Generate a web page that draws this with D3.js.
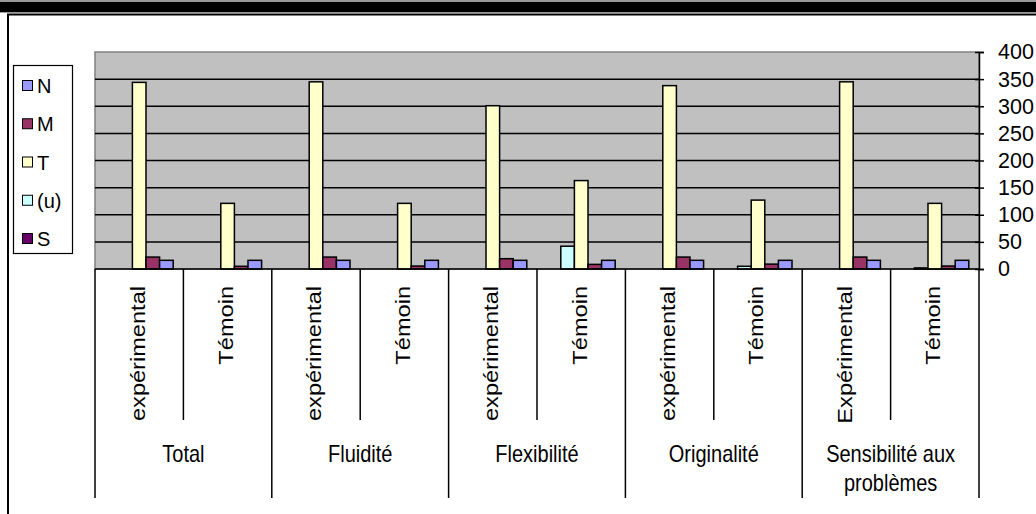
<!DOCTYPE html>
<html>
<head>
<meta charset="utf-8">
<script src="https://cdn.jsdelivr.net/npm/d3@7"></script>
<style>
  html, body { margin: 0; padding: 0; background: #fff; }
  svg { display: block; font-family: "Liberation Sans", Arial, sans-serif; }
</style>
</head>
<body>
<svg id="chart" width="1036" height="514"></svg>
<script>
// ---- data ----
const groups = ["Total", "Fluidité", "Flexibilité", "Originalité", "Sensibilité aux problèmes"];
const subLabels = ["expérimental", "Témoin", "expérimental", "Témoin", "expérimental", "Témoin", "expérimental", "Témoin", "Expérimental", "Témoin"];
const legendOrder = ["N", "M", "T", "(u)", "S"];
const barOrder = ["S", "(u)", "T", "M", "N"];
const seriesN = [16, 16, 16, 16, 16, 16, 16, 16, 16, 16];
const seriesM = [22, 5, 22, 5.5, 19, 8.5, 22, 9, 22, 5.5];
const seriesT = [344, 121, 345, 121, 301, 163, 338, 127, 345, 121];
const seriesU = [0, 0, 0, 0, 0, 42, 0, 5, 0, 2];
const seriesS = [0, 0, 0, 0, 0, 0, 0, 0, 0, 0];
const yTicks = [0, 50, 100, 150, 200, 250, 300, 350, 400];

const seriesValues = { "N": seriesN, "M": seriesM, "T": seriesT, "(u)": seriesU, "S": seriesS };
const colors = { "N": "#9999FF", "M": "#993366", "T": "#FFFFCC", "(u)": "#CCFFFF", "S": "#660066" };

// ---- layout ----
const svg = d3.select("#chart");
const L = 95, R = 979, TOP = 52, BOT = 269;
const x = d3.scaleBand().domain(d3.range(subLabels.length)).range([L, R]).padding(0);
const xs = d3.scaleBand().domain(barOrder).range([0, x.bandwidth()]).paddingInner(0).paddingOuter(0.75);
const y = d3.scaleLinear().domain([0, 400]).range([BOT, TOP]);
const fontMain = 20, vStretch = 1.18;

// page decoration: top black band and chart frame
svg.append("rect").attr("x", 0).attr("y", 0).attr("width", 1036).attr("height", 13).attr("fill", "#999");
svg.append("rect").attr("x", 0).attr("y", 2).attr("width", 1036).attr("height", 10).attr("fill", "#000");
svg.append("path").attr("d", "M8,514 V14.5 H1036").attr("fill", "none").attr("stroke", "#000").attr("stroke-width", 2);

// plot area
svg.append("rect").attr("x", L).attr("y", TOP).attr("width", R - L).attr("height", BOT - TOP)
  .attr("fill", "#C0C0C0").attr("stroke", "#808080").attr("stroke-width", 1.5);

// gridlines
svg.append("g").selectAll("line").data(yTicks.filter(t => t > 0 && t < 400)).join("line")
  .attr("x1", L).attr("x2", R).attr("y1", d => y(d)).attr("y2", d => y(d))
  .attr("stroke", "#000").attr("stroke-width", 1.5);

// bars
const bars = [];
subLabels.forEach((c, i) => {
  barOrder.forEach(s => {
    const v = seriesValues[s][i];
    if (v > 0) bars.push({ i, s, v });
  });
});
svg.append("g").selectAll("rect").data(bars).join("rect")
  .attr("x", d => x(d.i) + xs(d.s))
  .attr("y", d => y(d.v))
  .attr("width", xs.bandwidth())
  .attr("height", d => y(0) - y(d.v))
  .attr("fill", d => colors[d.s])
  .attr("stroke", "#000").attr("stroke-width", 1.5);

// right value axis
const yAxis = svg.append("g").attr("transform", `translate(${R},0)`)
  .call(d3.axisRight(y).tickValues(yTicks).tickSize(5).tickPadding(14));
yAxis.select(".domain").attr("stroke", "#000").attr("stroke-width", 1.5);
yAxis.selectAll(".tick line").attr("x1", -4).attr("x2", 5).attr("stroke", "#000").attr("stroke-width", 1.5);
yAxis.selectAll(".tick text")
  .attr("font-size", 21.5).attr("fill", "#000")
  .attr("font-family", "'Liberation Sans', Arial, sans-serif");

// category axis
const cat = svg.append("g");
cat.append("line").attr("x1", L).attr("x2", R).attr("y1", BOT).attr("y2", BOT).attr("stroke", "#000").attr("stroke-width", 1.5);
// inner separators (between expérimental and Témoin)
cat.selectAll("line.inner").data(d3.range(groups.length)).join("line").attr("class", "inner")
  .attr("x1", g => x(g * 2 + 1)).attr("x2", g => x(g * 2 + 1))
  .attr("y1", BOT).attr("y2", 420).attr("stroke", "#000").attr("stroke-width", 1.5);
// group separators
const gBounds = d3.range(groups.length + 1).map(g => g < groups.length ? x(g * 2) : R);
cat.selectAll("line.outer").data(gBounds).join("line").attr("class", "outer")
  .attr("x1", d => d).attr("x2", d => d)
  .attr("y1", BOT).attr("y2", 498).attr("stroke", "#000").attr("stroke-width", 1.5);

// rotated sub labels
cat.selectAll("text.sub").data(subLabels).join("text").attr("class", "sub")
  .attr("transform", (d, i) => `translate(${x(i) + x.bandwidth() / 2 - 1.5},286) scale(1,${vStretch}) rotate(-90)`)
  .attr("text-anchor", "end").attr("dominant-baseline", "central")
  .attr("font-size", fontMain).attr("fill", "#000")
  .text(d => d);

// group labels (wrapped)
const groupLines = groups.map(g => g === "Sensibilité aux problèmes" ? ["Sensibilité aux", "problèmes"] : [g]);
groupLines.forEach((lines, g) => {
  const cx = (gBounds[g] + gBounds[g + 1]) / 2;
  lines.forEach((ln, k) => {
    cat.append("text")
      .attr("transform", `translate(${cx},${454 + k * 29}) scale(1,${vStretch})`)
      .attr("text-anchor", "middle").attr("dominant-baseline", "central")
      .attr("font-size", fontMain).attr("fill", "#000")
      .text(ln);
  });
});

// legend
const leg = svg.append("g");
leg.append("rect").attr("x", 13.5).attr("y", 65.5).attr("width", 59).attr("height", 188)
  .attr("fill", "#fff").attr("stroke", "#000").attr("stroke-width", 1.2);
const legY = d3.scalePoint().domain(legendOrder).range([86, 239]);
const items = leg.selectAll("g.item").data(legendOrder).join("g").attr("class", "item")
  .attr("transform", d => `translate(0,${legY(d)})`);
items.append("rect").attr("x", 22.5).attr("y", -5.5).attr("width", 10).attr("height", 10)
  .attr("fill", d => colors[d]).attr("stroke", "#000").attr("stroke-width", 1);
items.append("text").attr("x", 37).attr("y", 0).attr("dominant-baseline", "central")
  .attr("font-size", 20).attr("fill", "#000").text(d => d);
</script>
</body>
</html>
